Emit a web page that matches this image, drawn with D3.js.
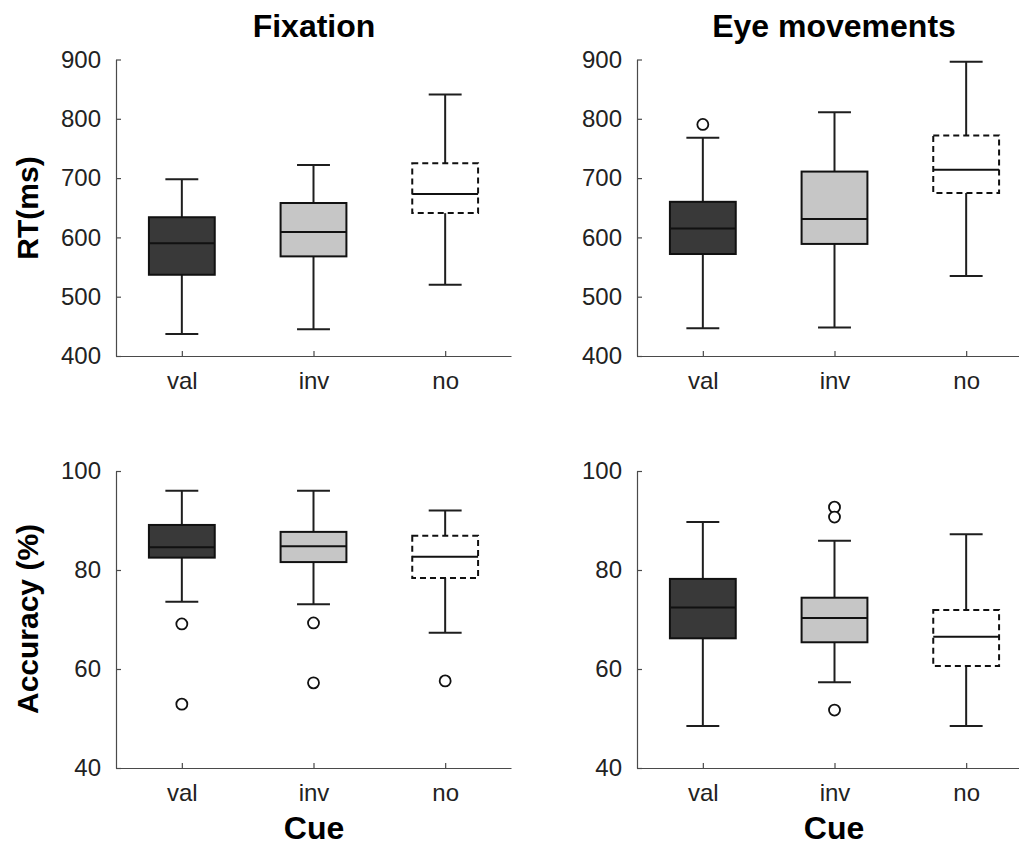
<!DOCTYPE html>
<html>
  <head>
    <title>Cue boxplots</title>
    <script src="https://cdn.jsdelivr.net/npm/d3@7"></script>
    <style>
      body { margin: 0; background: #fff; }
      text { font-family: "Liberation Sans", Arial, sans-serif; }
    </style>
  </head>
  <body>
    <svg width="1019" height="846" id="mainsvg"></svg>
    <script>

    // categories and five-number summaries: [low whisker, q1, median, q3, high whisker]
    const cues = ['val', 'inv', 'no'];
    const rtFixation = [[437, 537, 590, 634, 698], [445, 568, 609, 658, 722], [520, 641, 673, 725, 841]];
    const rtEye = [[447, 572, 615, 660, 768], [448, 589, 631, 711, 811], [535, 675, 714, 772, 896]];
    const accFixation = [[73.6, 82.5, 84.6, 89.1, 96], [73.1, 81.6, 84.8, 87.7, 96], [67.3, 78.4, 82.7, 86.9, 92]];
    const accEye = [[48.5, 66.2, 72.4, 78.2, 89.7], [57.3, 65.4, 70.3, 74.4, 85.9], [48.5, 60.6, 66.5, 71.9, 87.2]];
    // outliers per cue
    const rtFixationOut = [[], [], []];
    const rtEyeOut = [[790.5], [], []];
    const accFixationOut = [[69.1, 52.9], [69.3, 57.2], [57.6]];
    const accEyeOut = [[], [92.7, 90.7, 51.7], []];

    const rtTicks = [400, 500, 600, 700, 800, 900];
    const accTicks = [40, 60, 80, 100];

    const fills = ['#393939', '#c6c6c6', '#ffffff'];
    const dashes = [null, null, '6,4'];

    const svg = d3.select('svg');

    const panels = [
      { left: 116, top: 59.5, bottom: 356, data: rtFixation, out: rtFixationOut, domain: [400, 900], ticks: rtTicks },
      { left: 637, top: 59.5, bottom: 356, data: rtEye, out: rtEyeOut, domain: [400, 900], ticks: rtTicks },
      { left: 116, top: 471, bottom: 768, data: accFixation, out: accFixationOut, domain: [40, 100], ticks: accTicks },
      { left: 637, top: 471, bottom: 768, data: accEye, out: accEyeOut, domain: [40, 100], ticks: accTicks }
    ];

    panels.forEach(function(p) {
      const x = d3.scaleLinear().domain([0.5, 3.5]).range([p.left, p.left + 395]);
      const y = d3.scaleLinear().domain(p.domain).range([p.bottom, p.top]);
      const g = svg.append('g');

      // axes, ticks pointing inward like matlab
      const ya = g.append('g').attr('transform', `translate(${p.left},0)`)
        .call(d3.axisLeft(y).tickValues(p.ticks).tickSizeInner(-5).tickSizeOuter(0).tickPadding(15));
      const xa = g.append('g').attr('transform', `translate(0,${p.bottom})`)
        .call(d3.axisBottom(x).tickValues([1, 2, 3]).tickFormat((d, i) => cues[i])
          .tickSizeInner(-5).tickSizeOuter(0).tickPadding(16));
      [ya, xa].forEach(function(a) {
        a.attr('font-family', null);
        a.select('.domain').attr('stroke', '#4a4a4a').attr('stroke-width', 1.2);
        a.selectAll('.tick line').attr('stroke', '#4a4a4a').attr('stroke-width', 1.2);
        a.selectAll('.tick text').attr('fill', '#222').style('font-size', '24px');
      });

      const bw = x(1.25) - x(1);
      const cw = x(1.125) - x(1);

      const boxes = g.selectAll('g.box').data(p.data).enter().append('g').attr('class', 'box');
      boxes.each(function(d, i) {
        const b = d3.select(this);
        const cx = x(i + 1);
        // whiskers
        b.append('line').attr('x1', cx).attr('x2', cx).attr('y1', y(d[3])).attr('y2', y(d[4]));
        b.append('line').attr('x1', cx).attr('x2', cx).attr('y1', y(d[1])).attr('y2', y(d[0]));
        b.append('line').attr('x1', cx - cw).attr('x2', cx + cw).attr('y1', y(d[4])).attr('y2', y(d[4]));
        b.append('line').attr('x1', cx - cw).attr('x2', cx + cw).attr('y1', y(d[0])).attr('y2', y(d[0]));
        b.selectAll('line').attr('stroke', '#1e1e1e').attr('stroke-width', 2);
        b.append('rect')
          .attr('x', cx - bw).attr('width', 2 * bw)
          .attr('y', y(d[3])).attr('height', y(d[1]) - y(d[3]))
          .attr('fill', fills[i]).attr('stroke', '#111').attr('stroke-width', 2)
          .attr('stroke-dasharray', dashes[i]);
        b.append('line').attr('x1', cx - bw).attr('x2', cx + bw).attr('y1', y(d[2])).attr('y2', y(d[2]))
          .attr('stroke', '#111').attr('stroke-width', 2);
        b.selectAll('circle').data(p.out[i]).enter().append('circle')
          .attr('cx', cx).attr('cy', v => y(v)).attr('r', 5.5)
          .attr('fill', '#fff').attr('stroke', '#111').attr('stroke-width', 1.8);
      });
    });

    // titles and labels
    svg.append('text').attr('x', 314).attr('y', 37).attr('text-anchor', 'middle')
      .attr('font-weight', 'bold').attr('font-size', 32).text('Fixation');
    svg.append('text').attr('x', 834).attr('y', 37).attr('text-anchor', 'middle')
      .attr('font-weight', 'bold').attr('font-size', 32).text('Eye movements');
    svg.append('text').attr('transform', 'translate(38,208) rotate(-90)').attr('text-anchor', 'middle')
      .attr('font-weight', 'bold').attr('font-size', 30).text('RT(ms)');
    svg.append('text').attr('transform', 'translate(38,619) rotate(-90)').attr('text-anchor', 'middle')
      .attr('font-weight', 'bold').attr('font-size', 30).text('Accuracy (%)');
    svg.append('text').attr('x', 314).attr('y', 839).attr('text-anchor', 'middle')
      .attr('font-weight', 'bold').attr('font-size', 32).text('Cue');
    svg.append('text').attr('x', 834).attr('y', 839).attr('text-anchor', 'middle')
      .attr('font-weight', 'bold').attr('font-size', 32).text('Cue');

  </script>
  </body>
</html>
